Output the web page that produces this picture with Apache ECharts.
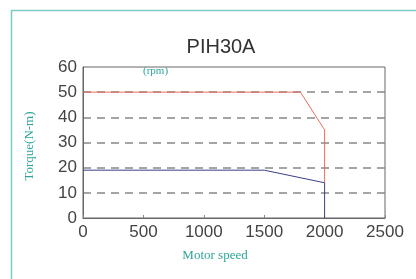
<!DOCTYPE html>
<html>
<head>
    <meta charset="utf-8">
    <title>PIH30A</title>
    <script src="https://cdn.jsdelivr.net/npm/echarts@6/dist/echarts.min.js"></script>
    <style>
        * { margin: 0; padding: 0; box-sizing: border-box; }
        html, body { width: 100%; height: 100%; background: #fff; }
        #main { width: 416px; height: 279px; }
    </style>
</head>
<body>
<div id="main"></div>
<script>
    // curve data
    const redSpeed = [0, 1800, 2000, 2000];
    const redTorque = [50, 50, 35, 14];
    const blueSpeed = [0, 1500, 2000, 2000];
    const blueTorque = [19, 19, 14, 0];
    const xTicks = [0, 500, 1000, 1500, 2000, 2500];
    const yTicks = [0, 10, 20, 30, 40, 50, 60];

    const pairs = (xs, ys) => xs.map((x, i) => [x, ys[i]]);

    const teal = '#2fa59a';
    const chart = echarts.init(document.getElementById('main'));

    chart.setOption({
        animation: false,
        title: {
            text: 'PIH30A',
            left: 216,
            top: 32,
            textAlign: 'center',
            textStyle: { fontFamily: 'Liberation Sans', fontSize: 20, fontWeight: 'normal', color: '#333' }
        },
        grid: {
            left: 83, right: 31, top: 67, bottom: 61,
            show: true, borderColor: '#666', borderWidth: 1
        },
        xAxis: {
            type: 'value',
            min: xTicks[0], max: xTicks[xTicks.length - 1], interval: 500,
            axisLine: { show: true, lineStyle: { color: '#666' } },
            axisTick: { show: true, inside: true, length: 3, lineStyle: { color: '#888' } },
            axisLabel: { fontFamily: 'Liberation Sans', fontSize: 17, color: '#444', margin: 6, formatter: v => String(v) },
            splitLine: { show: false }
        },
        yAxis: {
            type: 'value',
            min: yTicks[0], max: yTicks[yTicks.length - 1], interval: 10,
            axisLine: { show: true, lineStyle: { color: '#666' } },
            axisTick: { show: false },
            axisLabel: { fontFamily: 'Liberation Sans', fontSize: 17, color: '#444', margin: 6 },
            splitLine: { show: true, showMinLine: false, showMaxLine: false, lineStyle: { color: '#888', width: 1.5, type: [8, 6] } }
        },
        graphic: [
            {
                type: 'rect', silent: true, z: -1,
                shape: { x: 11.5, y: 10.5, width: 420, height: 300 },
                style: { fill: 'none', stroke: '#7ccbc5', lineWidth: 1.5 }
            },
            {
                type: 'text', left: 143, top: 66,
                style: { text: '(rpm)', font: '11px "Liberation Serif"', fill: teal }
            },
            {
                type: 'text', x: 215, y: 256,
                style: { text: 'Motor speed', font: '13px "Liberation Serif"', fill: teal, align: 'center', verticalAlign: 'middle' }
            },
            {
                type: 'text', x: 30, y: 146, rotation: Math.PI / 2,
                style: { text: 'Torque(N-m)', font: '13px "Liberation Serif"', fill: teal, align: 'center', verticalAlign: 'middle' }
            }
        ],
        series: [
            {
                type: 'line', data: pairs(redSpeed, redTorque), symbol: 'none',
                lineStyle: { color: '#e8705c', width: 1 }, z: 3
            },
            {
                type: 'line', data: pairs(blueSpeed, blueTorque), symbol: 'none',
                lineStyle: { color: '#3a3f86', width: 1 }, z: 3
            }
        ]
    });
</script>
</body>
</html>
